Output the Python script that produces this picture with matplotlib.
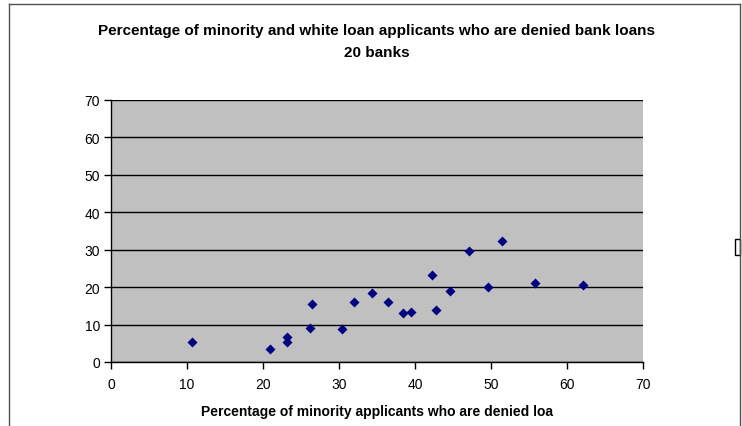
import matplotlib.pyplot as plt
from matplotlib.lines import Line2D
from matplotlib.patches import Rectangle
from matplotlib.transforms import Bbox

plt.rcParams['font.family'] = ['Liberation Sans', 'DejaVu Sans']

# minority denial rate (x) vs white denial rate (y), 20 banks
minority_pct = [10.6, 20.9, 23.1, 23.2, 26.2, 26.5, 30.4, 32.0, 34.3, 36.4,
                38.4, 39.5, 42.2, 42.7, 44.6, 47.1, 49.6, 51.4, 55.8, 62.1]
white_pct = [5.4, 3.55, 6.6, 5.3, 9.2, 15.4, 8.8, 15.9, 18.4, 15.9,
             13.2, 13.4, 23.2, 13.8, 19.0, 29.7, 20.0, 32.4, 21.0, 20.6]
ticks = [0, 10, 20, 30, 40, 50, 60, 70]

title1 = 'Percentage of minority and white loan applicants who are denied bank loans'
title2 = '20 banks'
xlabel = 'Percentage of minority applicants who are denied loa'

W, H = 742, 427
fig = plt.figure(figsize=(W / 100, H / 100), dpi=100)
ax = fig.add_axes([111 / W, 1 - 363 / H, 532 / W, 262 / H])
ax.set_facecolor('#C0C0C0')

ax.scatter(minority_pct, white_pct, marker='D', s=26, color='#000080',
           zorder=3, linewidths=0)

ax.set_xlim(0, 70)
ax.set_ylim(0, 70)
ax.set_xticks(ticks)
ax.set_yticks(ticks)
ax.grid(axis='y', color='black', linewidth=1)
ax.set_axisbelow(True)
ax.tick_params(direction='out', length=5, width=1, labelsize=10,
               colors='black')
ax.tick_params(axis='y', pad=3)
ax.tick_params(axis='x', pad=6)
for side in ['top', 'right']:
    ax.spines[side].set_visible(False)
for side in ['left', 'bottom']:
    ax.spines[side].set_linewidth(1)

ax.set_xlabel(xlabel, fontsize=10, fontweight='bold', labelpad=9)

# title, clipped at the right like the original
t = fig.text(377 / W, 1 - 31 / H, title1, ha='center', va='center',
             fontsize=11, fontweight='bold')
t.set_clip_on(True)
t.set_clip_box(Bbox([[0, 0], [656, H]]))
fig.text(377 / W, 1 - 53 / H, title2, ha='center', va='center',
         fontsize=11, fontweight='bold')

# chart area border (cut off at the bottom)
border = '#505050'
fig.add_artist(Line2D([9 / W, 740 / W], [1 - 5 / H, 1 - 5 / H],
                      transform=fig.transFigure, color=border, linewidth=1))
fig.add_artist(Line2D([9 / W, 9 / W], [0, 1 - 5 / H],
                      transform=fig.transFigure, color=border, linewidth=1))
fig.add_artist(Line2D([740 / W, 740 / W], [0, 1 - 5 / H],
                      transform=fig.transFigure, color=border, linewidth=1))
fig.add_artist(Rectangle((735 / W, 1 - 256 / H), 5 / W, 16 / H,
                         transform=fig.transFigure, facecolor='white',
                         edgecolor='black', linewidth=1))

fig.savefig('out.png', dpi=100)
